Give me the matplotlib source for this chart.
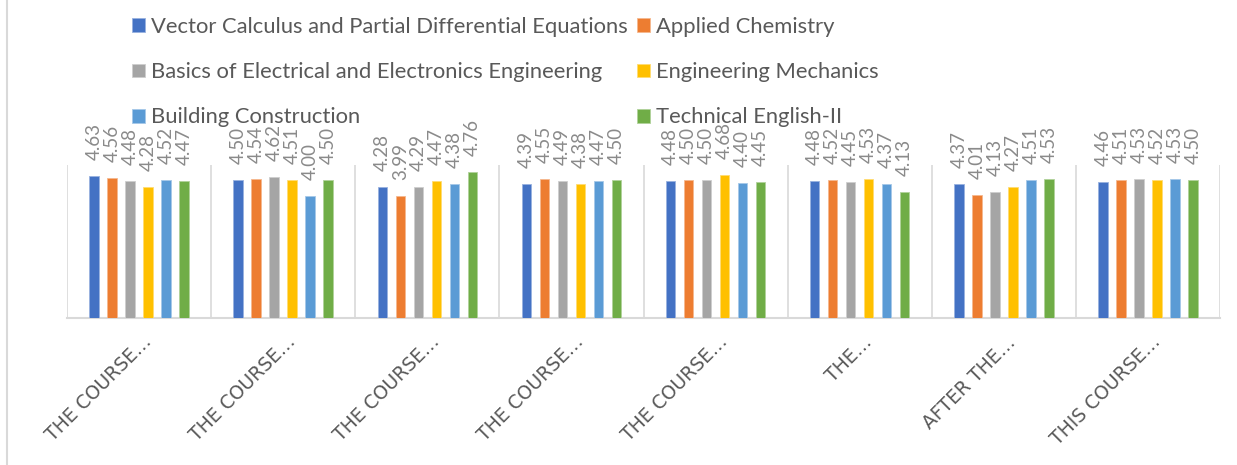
import numpy as np
import matplotlib
matplotlib.use("Agg")
import matplotlib.pyplot as plt
from matplotlib.transforms import ScaledTranslation
from matplotlib.lines import Line2D
from matplotlib.colors import to_rgb

categories = ["THE COURSE…", "THE COURSE…", "THE COURSE…", "THE COURSE…",
              "THE COURSE…", "THE…", "AFTER THE…", "THIS COURSE…"]
series_names = ["Vector Calculus and Partial Differential Equations",
                "Applied Chemistry",
                "Basics of Electrical and Electronics Engineering",
                "Engineering Mechanics",
                "Building Construction",
                "Technical English-II"]
vector_calculus = [4.63, 4.50, 4.28, 4.39, 4.48, 4.48, 4.37, 4.46]
applied_chemistry = [4.56, 4.54, 3.99, 4.55, 4.50, 4.52, 4.01, 4.51]
basics_electrical = [4.48, 4.62, 4.29, 4.49, 4.50, 4.45, 4.13, 4.53]
engineering_mechanics = [4.28, 4.51, 4.47, 4.38, 4.68, 4.53, 4.27, 4.52]
building_construction = [4.52, 4.00, 4.38, 4.47, 4.40, 4.37, 4.51, 4.53]
technical_english = [4.47, 4.50, 4.76, 4.50, 4.45, 4.13, 4.53, 4.50]
series_values = [vector_calculus, applied_chemistry, basics_electrical,
                 engineering_mechanics, building_construction, technical_english]
colors = ["#4472C4", "#ED7D31", "#A5A5A5", "#FFC000", "#5B9BD5", "#70AD47"]

W, H = 1237, 465
fig = plt.figure(figsize=(W / 100, H / 100), dpi=100)
ax = fig.add_axes([67 / W, 1 - 318 / H, (1220 - 67) / W, (318 - 165) / H])

x = np.arange(len(categories))
step = 0.125
bw = 0.066
bar_containers = []
for i, (vals, c) in enumerate(zip(series_values, colors)):
    edge = tuple(0.55 * np.array(to_rgb(c)) + 0.45)
    bc = ax.bar(x + (i - 2.5) * step, vals, bw, color=c, edgecolor=edge,
                linewidth=0.6, label=series_names[i], zorder=3)
    bar_containers.append(bc)
    ax.bar_label(bc, fmt="%.2f", rotation=90, padding=11.5, color="#8a8a8a",
                 fontsize=13.5, family="Lato")

ax.set_xlim(-0.5, len(categories) - 0.5)
ax.set_ylim(0, 5)
ax.set_yticks([])
ax.set_xticks(np.arange(-0.5, len(categories), 1), minor=True)
ax.grid(which="minor", axis="x", color="#d9d9d9", linewidth=1.2)
ax.tick_params(which="both", length=0)
for s in ["left", "right", "top"]:
    ax.spines[s].set_visible(False)
ax.spines["bottom"].set_color("#d9d9d9")
ax.spines["bottom"].set_linewidth(1.5)

ax.set_xticks(x)
ax.set_xticklabels(categories, rotation=45, rotation_mode="anchor", ha="right",
                   va="baseline", fontsize=13.5, color="#595959", family="DejaVu Sans")
ax.tick_params(axis="x", which="major", pad=0)
for lab in ax.get_xticklabels():
    lab.set_transform(lab.get_transform() + ScaledTranslation(0.13, -0.25, fig.dpi_scale_trans))

# legend: two columns, row-wise order
leg_kw = dict(loc="upper left", frameon=False, ncol=1, borderpad=0, borderaxespad=0,
              handlelength=0.59, handleheight=0.59, handletextpad=0.27,
              labelspacing=1.15, prop={"family": "Lato", "size": 15.8},
              labelcolor="#595959")
h1 = [bar_containers[i] for i in (0, 2, 4)]
h2 = [bar_containers[i] for i in (1, 3, 5)]
fig.legend(h1, [series_names[i] for i in (0, 2, 4)],
           bbox_to_anchor=(132 / W, 1 - 17 / H), **leg_kw)
fig.legend(h2, [series_names[i] for i in (1, 3, 5)],
           bbox_to_anchor=(637 / W, 1 - 17 / H), **leg_kw)

fig.add_artist(Line2D([7 / W, 7 / W], [0, 1], color="#d9d9d9", linewidth=1.5))

fig.savefig("out.png", dpi=100, facecolor="white")
